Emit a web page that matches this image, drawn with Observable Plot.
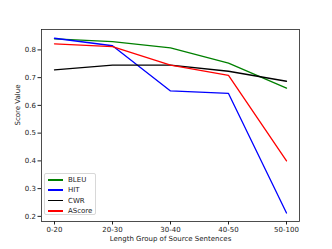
<!DOCTYPE html>
<html><head><meta charset="utf-8">
<script src="https://cdn.jsdelivr.net/npm/d3@7"></script>
<script src="https://cdn.jsdelivr.net/npm/@observablehq/plot@0.6"></script>
<style>
body{margin:0;background:#fff;}
#wrap{position:relative;width:332px;height:249px;font-family:"DejaVu Sans",sans-serif;}
#legend{position:absolute;left:44px;top:173px;width:52px;height:42px;border:1px solid #d8d8d8;border-radius:2px;background:rgba(255,255,255,0.8);font-size:7px;color:#222;box-sizing:border-box;}
#legend .row{position:absolute;left:3px;height:10px;display:flex;align-items:center;}
#legend .sw{width:15px;height:1.7px;margin-right:5px;}
</style></head>
<body><div id="wrap"><div id="chart"></div><div id="legend"></div></div>
<script>
const groups = ["0-20","20-30","30-40","40-50","50-100"];
const seriesNames = ["BLEU","HIT","CWR","AScore"];
const seriesColors = ["green","blue","black","red"];
const bleu   = [0.840, 0.830, 0.807, 0.752, 0.662];
const hit    = [0.842, 0.815, 0.652, 0.643, 0.212];
const cwr    = [0.728, 0.745, 0.745, 0.723, 0.687];
const ascore = [0.822, 0.812, 0.745, 0.708, 0.400];
const yTicks = [0.2,0.3,0.4,0.5,0.6,0.7,0.8];

const allSeries = [bleu, hit, cwr, ascore];
const data = [];
allSeries.forEach((vals, si) => vals.forEach((v, i) => data.push({series: seriesNames[si], group: groups[i], value: v})));

const chart = Plot.plot({
  width: 332, height: 249,
  marginLeft: 41, marginRight: 33, marginTop: 29, marginBottom: 28,
  style: {fontFamily: "DejaVu Sans, sans-serif", fontSize: "7px", color: "#222", background: "#fff"},
  x: {type: "point", domain: groups, padding: 0.2, label: null},
  y: {domain: [0.1815, 0.8735], label: null},
  color: {domain: seriesNames, range: seriesColors},
  marks: [
    Plot.line(data, {x: "group", y: "value", z: "series", stroke: "series", strokeWidth: 1.3}),
    Plot.frame({stroke: "#222", strokeWidth: 0.8}),
    Plot.axisX({ticks: groups, tickSize: 3.5, tickPadding: 2, label: null, stroke: "#222"}),
    Plot.axisY({ticks: yTicks, tickSize: 3.5, tickPadding: 2, tickFormat: d3.format(".1f"), label: null, stroke: "#222"}),
    Plot.text(["Length Group of Source Sentences"], {frameAnchor: "bottom", dy: 19, fontSize: 7, fill: "#222"}),
    Plot.text(["Score Value"], {frameAnchor: "left", dx: -24, rotate: -90, fontSize: 7, fill: "#222"})
  ]
});
document.getElementById("chart").appendChild(chart);

const leg = document.getElementById("legend");
seriesNames.forEach((n, i) => {
  const r = document.createElement("div");
  r.className = "row";
  r.style.top = (1 + i * 10.3) + "px";
  r.innerHTML = `<span class="sw" style="background:${seriesColors[i]}"></span><span>${n}</span>`;
  leg.appendChild(r);
});
</script></body></html>
